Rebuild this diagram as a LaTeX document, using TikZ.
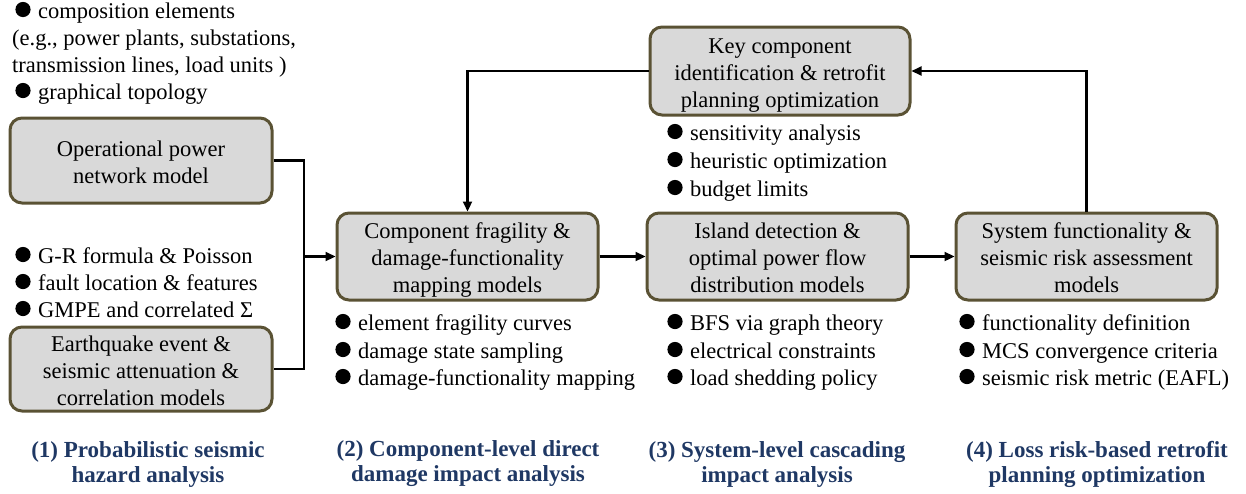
\documentclass[tikz,border=0pt]{standalone}
\usepackage{fontspec}
\setmainfont{Liberation Serif}
\usetikzlibrary{arrows.meta}
\definecolor{boxfill}{HTML}{D9D9D9}
\definecolor{boxedge}{HTML}{5A5234}
\definecolor{navy}{HTML}{1F3864}
\newcommand\bxt[1]{\raisebox{-4pt}[\height][\depth]{\begin{tabular}{@{}c@{}}#1\end{tabular}}}
\begin{document}
\begin{tikzpicture}[x=1pt,y=-1pt,
  mbox/.style={draw=boxedge,fill=boxfill,line width=3pt,rounded corners=12pt,
    inner sep=0pt,font=\fontsize{22.5}{27}\selectfont},
  bl/.style={anchor=base west,inner sep=0pt,font=\fontsize{22.5}{27}\selectfont},
  lab/.style={align=center,inner sep=0pt,text=navy,font=\fontsize{23}{25}\selectfont\bfseries},
  conn/.style={line width=2.2pt},
  arr/.style={line width=2.2pt,-{Triangle[length=10pt,width=9pt]}}]
\useasboundingbox (0,0) rectangle (1246,493);
% boxes
\node[mbox,minimum width=262pt,minimum height=85pt] (A) at (141,160.5) {\bxt{Operational power\\network model}};
\node[mbox,minimum width=262pt,minimum height=84pt] (B) at (141,369) {\bxt{Earthquake event \&\\seismic attenuation \&\\correlation models}};
\node[mbox,minimum width=261pt,minimum height=87pt] (C) at (467.5,256.5) {\bxt{Component fragility \&\\damage-functionality\\mapping models}};
\node[mbox,minimum width=261pt,minimum height=87pt] (D) at (777.5,256.5) {\bxt{Island detection \&\\optimal power flow\\distribution models}};
\node[mbox,minimum width=261pt,minimum height=87pt] (E) at (1086.5,256.5) {\bxt{System functionality \&\\seismic risk assessment\\models}};
\node[mbox,minimum width=260pt,minimum height=88pt] (F) at (780,71) {\bxt{Key component\\identification \& retrofit\\planning optimization}};
% bullet texts
\node[bl] (t1) at (38,18) {composition elements};
\node[bl] (t2) at (12,45) {(e.g., power plants, substations,};
\node[bl] (t3) at (12,72) {transmission lines, load units )};
\node[bl] (t4) at (38,99) {graphical topology};
\node[bl] (g1) at (38,263) {G-R formula \& Poisson};
\node[bl] (g2) at (38,290) {fault location \& features};
\node[bl] (g3) at (38,317) {GMPE and correlated Σ};
\node[bl] (c1) at (358,330) {element fragility curves};
\node[bl] (c2) at (358,358) {damage state sampling};
\node[bl] (c3) at (358,385) {damage-functionality mapping};
\node[bl] (f1) at (690,140) {sensitivity analysis};
\node[bl] (f2) at (690,168) {heuristic optimization};
\node[bl] (f3) at (690,196) {budget limits};
\node[bl] (d1) at (690,330) {BFS via graph theory};
\node[bl] (d2) at (690,358) {electrical constraints};
\node[bl] (d3) at (690,385) {load shedding policy};
\node[bl] (e1) at (982,330) {functionality definition};
\node[bl] (e2) at (982,358) {MCS convergence criteria};
\node[bl] (e3) at (982,385) {seismic risk metric (EAFL)};
\foreach \n in {t1,t4,g1,g2,g3,c1,c2,c3,f1,f2,f3,d1,d2,d3,e1,e2,e3}
  \fill (\n.base west) ++(-15,-8.5) circle (7.6);
% bottom labels
\node[lab] (L1) at (148,464) {(1) Probabilistic seismic\\hazard analysis};
\node[lab] (L2) at (468,464) {(2) Component-level direct\\damage impact analysis};
\node[lab] (L3) at (777,464) {(3) System-level cascading\\impact analysis};
\node[lab] (L4) at (1097,464) {(4) Loss risk-based retrofit\\planning optimization};
% connectors
\coordinate (jx) at (304,256.5);
\draw[conn] (A.east) -| (jx) |- (B.east);
\draw[arr] (jx) -- (C.west);
\draw[arr] (C.east) -- (D.west);
\draw[arr] (D.east) -- (E.west);
\draw[arr] (F.west) -| (C.north);
\draw[arr] (E.north) |- (F.east);
\end{tikzpicture}
\end{document}
